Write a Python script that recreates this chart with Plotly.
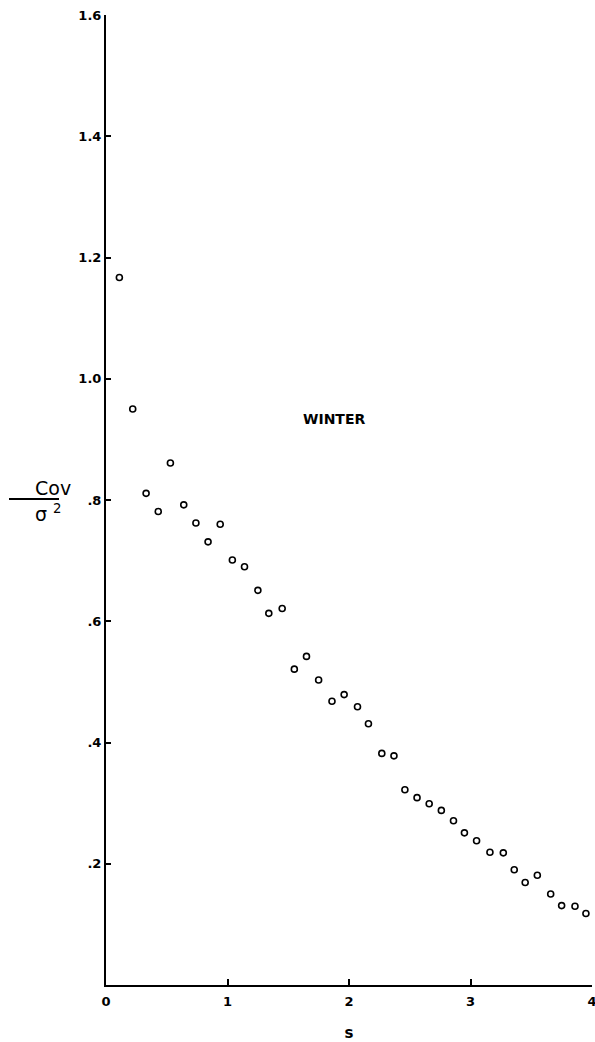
import plotly.graph_objects as go

# Data (s, Cov/sigma^2)
s_values = [0.11, 0.22, 0.33, 0.43, 0.53, 0.64, 0.74, 0.84, 0.94, 1.04,
            1.14, 1.25, 1.34, 1.45, 1.55, 1.65, 1.75, 1.86, 1.96, 2.07,
            2.16, 2.27, 2.37, 2.46, 2.56, 2.66, 2.76, 2.86, 2.95, 3.05,
            3.16, 3.27, 3.36, 3.45, 3.55, 3.66, 3.75, 3.86, 3.95]
cov_values = [1.167, 0.950, 0.811, 0.781, 0.861, 0.792, 0.762, 0.731, 0.760, 0.701,
              0.690, 0.651, 0.613, 0.621, 0.521, 0.542, 0.503, 0.468, 0.479, 0.459,
              0.431, 0.382, 0.378, 0.322, 0.309, 0.299, 0.288, 0.271, 0.251, 0.238,
              0.219, 0.218, 0.190, 0.169, 0.181, 0.150, 0.131, 0.130, 0.118]

x_tickvals = [0, 1, 2, 3, 4]
x_ticktext = ["0", "1", "2", "3", "4"]
y_tickvals = [0.2, 0.4, 0.6, 0.8, 1.0, 1.2, 1.4, 1.6]
y_ticktext = [".2", ".4", ".6", ".8", "1.0", "1.2", "1.4", "1.6"]

W, H = 595, 1042
ML, MR, MT, MB = 106, 3, 15, 57
PW, PH = W - ML - MR, H - MT - MB

def px(xp):
    return (xp - ML) / PW

def py(yp):
    return (H - MB - yp) / PH

FONT = "DejaVu Sans"

fig = go.Figure()
fig.add_trace(go.Scatter(
    x=s_values, y=cov_values, mode="markers",
    marker=dict(symbol="circle-open", size=6, color="black", line=dict(width=1.6)),
    showlegend=False, hoverinfo="x+y", cliponaxis=False,
))

fig.update_layout(
    width=W, height=H,
    margin=dict(l=ML, r=MR, t=MT, b=MB, pad=0, autoexpand=False),
    paper_bgcolor="white", plot_bgcolor="white",
    font=dict(family=FONT, color="black"),
    xaxis=dict(range=[0, 4], tickvals=x_tickvals, ticktext=x_ticktext,
               showgrid=False, zeroline=False, showline=True, linecolor="black",
               linewidth=2, ticks="inside", ticklen=6, tickwidth=1.5, tickcolor="black",
               automargin=False, ticklabeloverflow="allow", ticklabelstandoff=3,
               tickfont=dict(family=FONT, size=13, weight="bold"),
               title=dict(text="s", font=dict(family=FONT, size=15, weight="bold"), standoff=26)),
    yaxis=dict(range=[0, 1.6], tickvals=y_tickvals, ticktext=y_ticktext,
               showgrid=False, zeroline=False, showline=True, linecolor="black",
               linewidth=2, ticks="inside", ticklen=5, tickwidth=1.5, tickcolor="black",
               automargin=False, ticklabeloverflow="allow",
               tickfont=dict(family=FONT, size=13, weight="bold")),
)

fig.add_annotation(x=1.88, y=0.934, xref="x", yref="y", text="<b>WINTER</b>",
                   showarrow=False, font=dict(family=FONT, size=14, color="black"))

# Fraction y-axis label: Cov / sigma^2
fig.add_annotation(x=px(33), y=py(488), xref="paper", yref="paper", text="Cov",
                   showarrow=False, font=dict(family=FONT, size=19, color="black"))
fig.add_annotation(x=px(33), y=py(513), xref="paper", yref="paper", text="σ <sup>2</sup>",
                   showarrow=False, font=dict(family=FONT, size=19, color="black"))
fig.add_shape(type="line", xref="paper", yref="paper",
              x0=px(9), x1=px(59), y0=py(499), y1=py(499),
              line=dict(color="black", width=2))

fig.write_html("out.html", config={"displayModeBar": False},
               post_script="document.body.style.margin='0';document.body.style.overflow='hidden';")
